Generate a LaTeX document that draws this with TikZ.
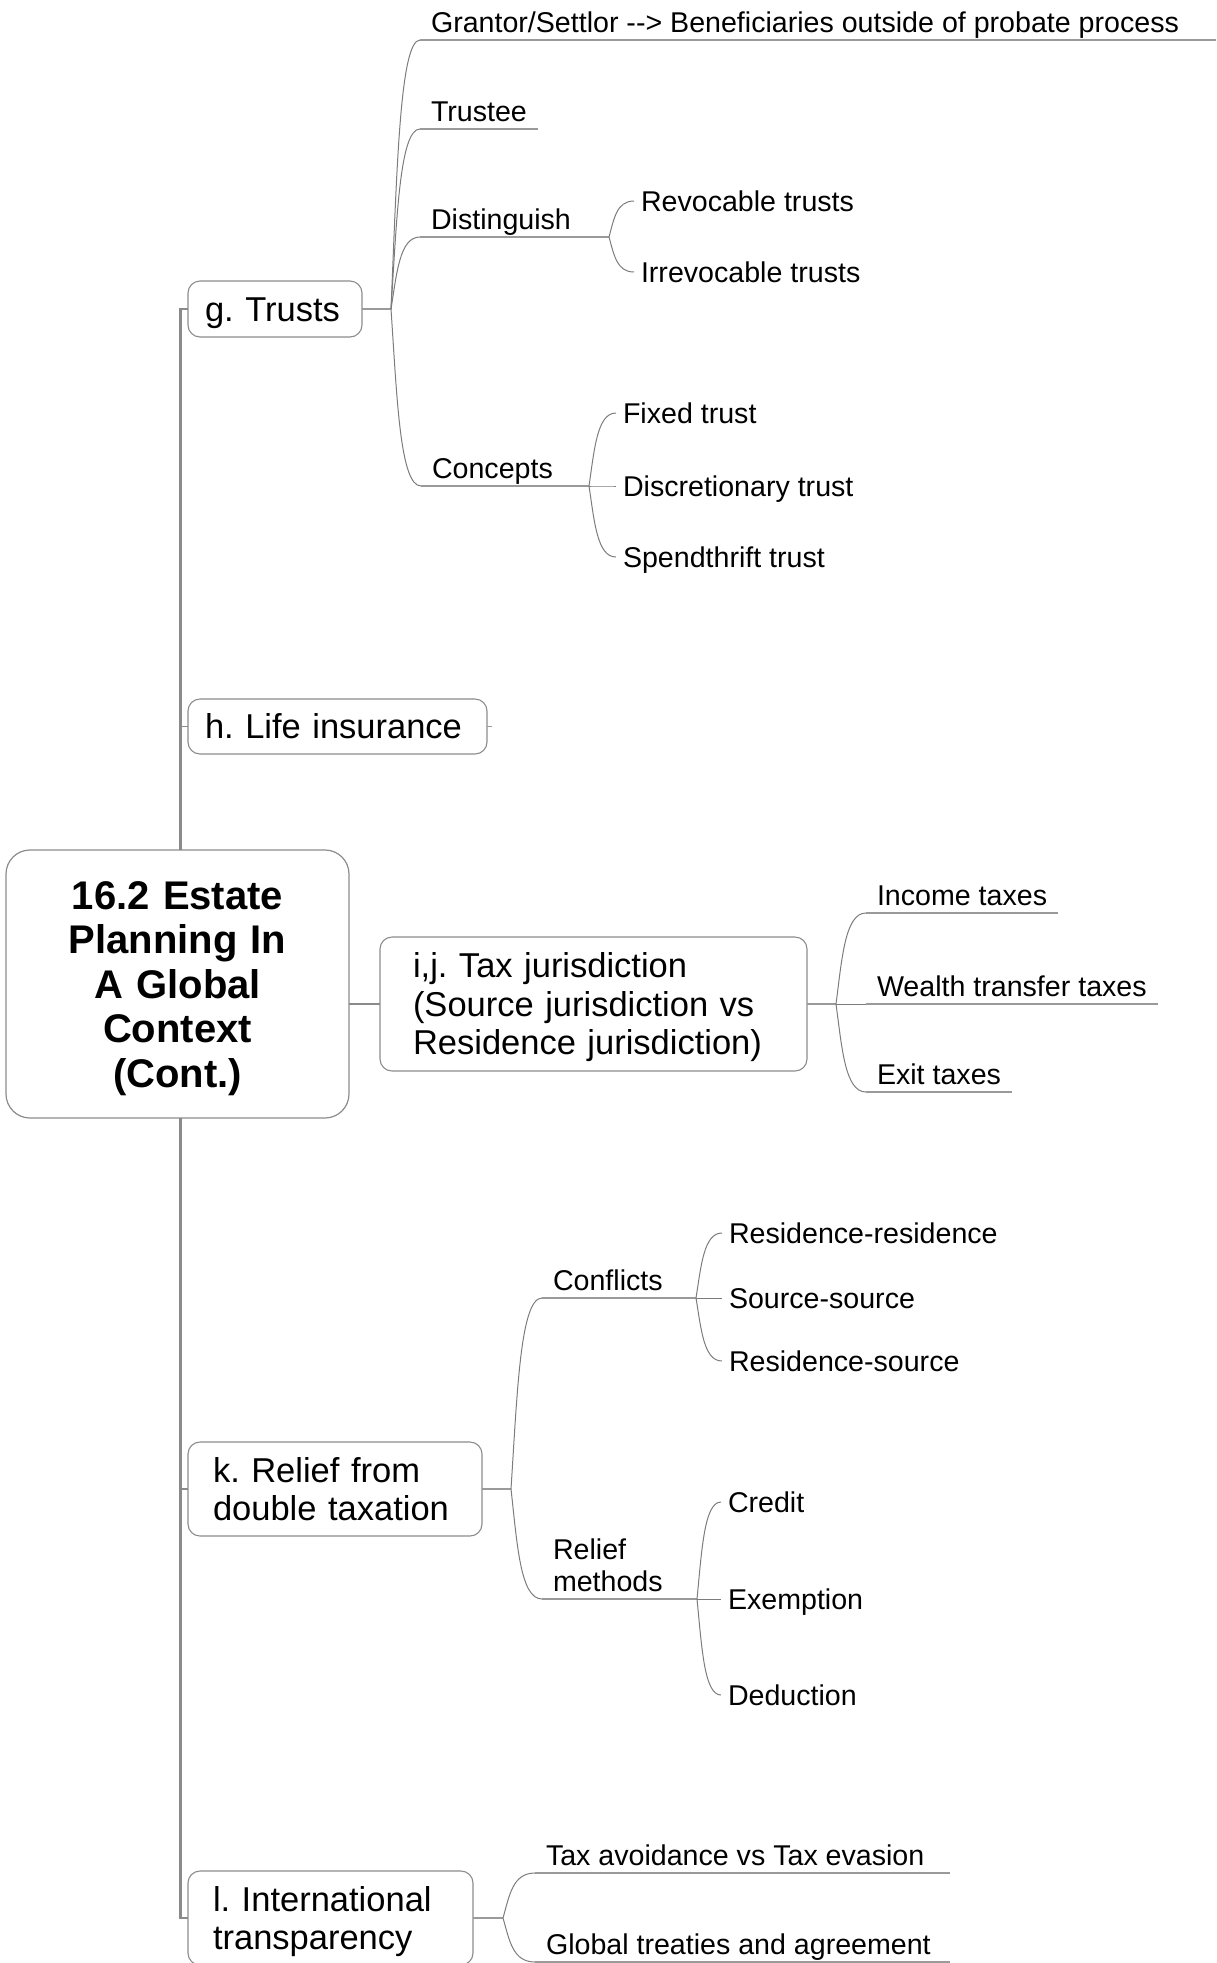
\documentclass[tikz,border=0pt]{standalone}
\usepackage{fontspec}
\setmainfont{Liberation Sans}
\usetikzlibrary{calc}

\definecolor{boxline}{HTML}{8C8C8C}
\definecolor{trunkgray}{HTML}{8A8A8A}
\definecolor{twiggray}{HTML}{7C7C7C}
\definecolor{ulinegray}{HTML}{9A9A9A}

\tikzset{
  every node/.style={inner sep=0pt, outer sep=0pt, text=black},
  rootbox/.style={draw=boxline, line width=1.2pt, rounded corners=24pt, fill=white,
    font=\fontsize{40}{44.6}\selectfont\bfseries, align=center,
    text width=300pt, text height=28.6pt, text depth=178.4pt,
    minimum width=343pt, minimum height=268pt},
  mainbox/.style={draw=boxline, line width=1.1pt, rounded corners=12pt, fill=white,
    font=\fontsize{34.5}{38.6}\selectfont, align=left, anchor=west,
    text height=24.7pt, text depth=0pt},
  topic/.style={font=\fontsize{28.6}{32}\selectfont, anchor=south west,
    inner xsep=11pt, text height=20.5pt, text depth=8pt},
  leaf/.style={font=\fontsize{28.6}{32}\selectfont, anchor=west,
    inner xsep=7pt, text height=20.5pt, text depth=0pt},
  trunk/.style={draw=trunkgray, line width=3pt},
  stub/.style={draw=trunkgray, line width=1.2pt},
  uline/.style={draw=ulinegray, line width=1.4pt},
  twigline/.style={draw=twiggray, line width=1pt},
}

% curved branch from a fork point to the start of a child
\newcommand\twig[2]{%
  \draw[twigline] let \p1=(#1), \p2=(#2) in
    (\p1) .. controls ({\x1+0.2*(\x2-\x1)},{\y1+0.5*(\y2-\y1)})
             and ({\x1+0.3*(\x2-\x1)},{\y2}) .. (\p2);}

\begin{document}
\frenchspacing
\begin{tikzpicture}[x=1pt, y=-1pt]
\useasboundingbox (0,0) rectangle (1216,1963);

% ---------- central topic ----------
\node[rootbox] (root) at (177.5,984) {16.2 Estate\\Planning In\\A Global\\Context\\(Cont.)};

% ---------- main topics ----------
\node[mainbox, text width=140pt, inner xsep=17pt, minimum height=56pt] (gT) at (188,309) {g. Trusts};
\node[mainbox, text width=265pt, inner xsep=17pt, minimum height=55pt] (hL) at (188,726.5) {h. Life insurance};
\node[mainbox, text width=361pt, inner xsep=33pt, minimum height=134pt, text depth=77.2pt] (ij) at (380,1004)
  {i,j. Tax jurisdiction\\(Source jurisdiction vs\\Residence jurisdiction)};
\node[mainbox, text width=244pt, inner xsep=25pt, minimum height=94pt, text depth=38.6pt] (kR) at (188,1489)
  {k. Relief from\\double taxation};
\node[mainbox, text width=235pt, inner xsep=25pt, minimum height=94pt, text depth=38.6pt] (lI) at (188,1918)
  {l. International\\transparency};

% ---------- trunk ----------
\coordinate (rTop) at ($(root.north)+(3,0)$);
\coordinate (rBot) at ($(root.south)+(3,0)$);
\draw[trunk] (rTop) -- (rTop |- gT.west);
\draw[trunk] (rBot) -- (rBot |- lI.west);
\draw[stub] ($(rTop |- gT.west)+(-2,0)$) -- (gT.west);
\draw[stub] ($(rTop |- hL.west)+(-2,0)$) -- (hL.west);
\draw[stub] ($(rBot |- kR.west)+(-2,0)$) -- (kR.west);
\draw[stub] ($(rBot |- lI.west)+(-2,0)$) -- (lI.west);
\draw[stub, line width=1.6pt] (root.east |- ij.west) -- (ij.west);
\coordinate (hEnd) at ($(hL.east)+(5,0)$);
\draw[uline] (hL.east) -- (hEnd);

% ---------- fork points and free underline ends ----------
\coordinate (fT) at (391,309);
\coordinate (fD) at (609,237);
\coordinate (fC) at (589,486);
\coordinate (fIJ) at (836,1004);
\coordinate (fK) at (511,1489);
\coordinate (fConf) at (696,1298);
\coordinate (fRel) at (697,1599);
\coordinate (fL) at (503,1918);
\coordinate (grEnd) at (1216,40);
\coordinate (tavEnd) at (950,1873);
\coordinate (globEnd) at (950,1962);

% ---------- g. Trusts ----------
\node[topic] (gr) at (420,40) {Grantor/Settlor -{}-{}> Beneficiaries outside of probate process};
\node[topic] (tr) at (420,129) {Trustee};
\node[topic] (dist) at (420,237) {Distinguish};
\node[topic] (conc) at (421,486) {Concepts};
\node[leaf] (rev) at (634,201) {Revocable trusts};
\node[leaf] (irr) at (634,272) {Irrevocable trusts};
\node[leaf] (fix) at (616,413) {Fixed trust};
\node[leaf] (disc) at (616,486) {Discretionary trust};
\node[leaf] (spend) at (616,557) {Spendthrift trust};

\draw[uline] (gT.east) -- (fT);
\draw[uline] (gr.south west) -- (grEnd);
\draw[uline] (tr.south west) -- (tr.south east);
\draw[uline] (dist.south west) -- (fD);
\draw[uline] (conc.south west) -- (fC);
\twig{fT}{gr.south west}
\twig{fT}{tr.south west}
\twig{fT}{dist.south west}
\twig{fT}{conc.south west}
\twig{fD}{rev.west}
\twig{fD}{irr.west}
\twig{fC}{fix.west}
\twig{fC}{disc.west}
\twig{fC}{spend.west}

% ---------- i,j. Tax jurisdiction ----------
\node[topic] (inc) at (866,913) {Income taxes};
\node[topic] (wea) at (866,1004) {Wealth transfer taxes};
\node[topic] (exit) at (866,1092) {Exit taxes};
\draw[uline] (ij.east) -- (fIJ);
\draw[uline] (inc.south west) -- (inc.south east);
\draw[uline] (wea.south west) -- (wea.south east);
\draw[uline] (exit.south west) -- (exit.south east);
\twig{fIJ}{inc.south west}
\twig{fIJ}{wea.south west}
\twig{fIJ}{exit.south west}

% ---------- k. Relief from double taxation ----------
\node[topic] (confl) at (542,1298) {Conflicts};
\node[topic, text width=112pt, align=left, text depth=40pt] (relm) at (542,1599) {Relief\\methods};
\node[leaf] (rr) at (722,1233) {Residence-residence};
\node[leaf] (ss) at (722,1298) {Source-source};
\node[leaf] (rs) at (722,1361) {Residence-source};
\node[leaf] (cred) at (721,1502) {Credit};
\node[leaf] (exem) at (721,1599) {Exemption};
\node[leaf] (ded) at (721,1695) {Deduction};
\draw[uline] (kR.east) -- (fK);
\draw[uline] (confl.south west) -- (fConf);
\draw[uline] (relm.south west) -- (fRel);
\twig{fK}{confl.south west}
\twig{fK}{relm.south west}
\twig{fConf}{rr.west}
\twig{fConf}{ss.west}
\twig{fConf}{rs.west}
\twig{fRel}{cred.west}
\twig{fRel}{exem.west}
\twig{fRel}{ded.west}

% ---------- l. International transparency ----------
\node[topic] (tav) at (535,1873) {Tax avoidance vs Tax evasion};
\node[topic] (glob) at (535,1962) {Global treaties and agreement};
\draw[uline] (lI.east) -- (fL);
\draw[uline] (tav.south west) -- (tavEnd);
\draw[uline] (glob.south west) -- (globEnd);
\twig{fL}{tav.south west}
\twig{fL}{glob.south west}
\end{tikzpicture}
\end{document}
